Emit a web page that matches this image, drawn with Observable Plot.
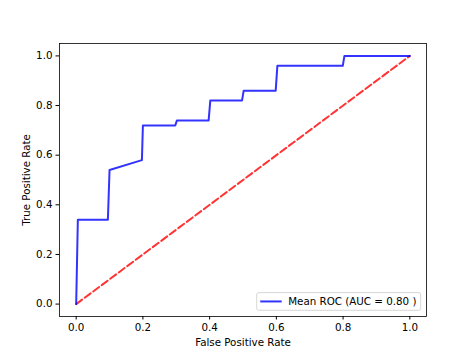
<!DOCTYPE html>
<html><head><meta charset="utf-8">
<script src="https://cdn.jsdelivr.net/npm/d3@7"></script>
<script src="https://cdn.jsdelivr.net/npm/@observablehq/plot@0.6"></script>
<style>body{margin:0;background:#fff;} #chart{width:473px;height:355px;}</style>
</head><body><div id="chart"></div>
<script>
const fpr = [0, 0.005, 0.095, 0.1, 0.197, 0.2, 0.297, 0.302, 0.397, 0.402, 0.497, 0.502, 0.598, 0.603, 0.799, 0.804, 1];
const tpr = [0, 0.34, 0.34, 0.54, 0.58, 0.72, 0.72, 0.74, 0.74, 0.82, 0.82, 0.86, 0.86, 0.96, 0.96, 1, 1];
const chanceX = [0, 1];
const chanceY = [0, 1];
const tickValues = [0, 0.2, 0.4, 0.6, 0.8, 1.0];
const xLabel = "False Positive Rate";
const yLabel = "True Positive Rate";
const legendLabel = "Mean ROC (AUC = 0.80 )";

const roc = fpr.map((x, i) => ({x, y: tpr[i]}));
const chance = chanceX.map((x, i) => ({x, y: chanceY[i]}));
const fmt = d3.format(".1f");

const plot = Plot.plot({
  width: 473, height: 355,
  marginLeft: 59, marginRight: 47, marginTop: 43, marginBottom: 39,
  style: {fontFamily: "'DejaVu Sans', sans-serif", fontSize: "10.3px", color: "#000", background: "#fff", overflow: "visible"},
  x: {domain: [-0.05, 1.05]},
  y: {domain: [-0.05, 1.05]},
  marks: [
    Plot.line(chance, {x: "x", y: "y", stroke: "#ff0000", strokeOpacity: 0.8, strokeWidth: 2, strokeDasharray: "7.4,3.2"}),
    Plot.line(roc, {x: "x", y: "y", stroke: "#0000ff", strokeOpacity: 0.8, strokeWidth: 2}),
    Plot.frame({stroke: "#000", strokeWidth: 0.8}),
    Plot.axisX({ticks: tickValues, tickFormat: fmt, tickSize: 3.5, tickPadding: 3.5, label: xLabel, labelAnchor: "center", labelArrow: "none", labelOffset: 29}),
    Plot.axisY({ticks: tickValues, tickFormat: fmt, tickSize: 3.5, tickPadding: 3.5, label: yLabel, labelAnchor: "center", labelArrow: "none", labelOffset: 37})
  ]
});
document.getElementById("chart").appendChild(plot);

// legend in lower right of the axes
const xr = plot.scale("x").range, yr = plot.scale("y").range;
const right = Math.max(...xr) - 5.3, bottom = Math.max(...yr) - 5.7;
const w = 164, h = 17.7;
const g = d3.select(plot).append("g")
  .attr("font-family", "'DejaVu Sans', sans-serif").attr("font-size", "10.3px").attr("text-anchor", "start");
g.append("rect").attr("x", right - w).attr("y", bottom - h).attr("width", w).attr("height", h)
  .attr("rx", 2).attr("fill", "#fff").attr("fill-opacity", 0.8).attr("stroke", "#cccccc").attr("stroke-width", 0.8);
g.append("line").attr("x1", right - w + 3.5).attr("x2", right - w + 25).attr("y1", bottom - h / 2).attr("y2", bottom - h / 2)
  .attr("stroke", "#0000ff").attr("stroke-opacity", 0.8).attr("stroke-width", 2);
g.append("text").attr("x", right - w + 31.5).attr("y", bottom - h / 2).attr("dy", "0.35em")
  .attr("text-anchor", "start").attr("fill", "#000").text(legendLabel);
</script></body></html>
